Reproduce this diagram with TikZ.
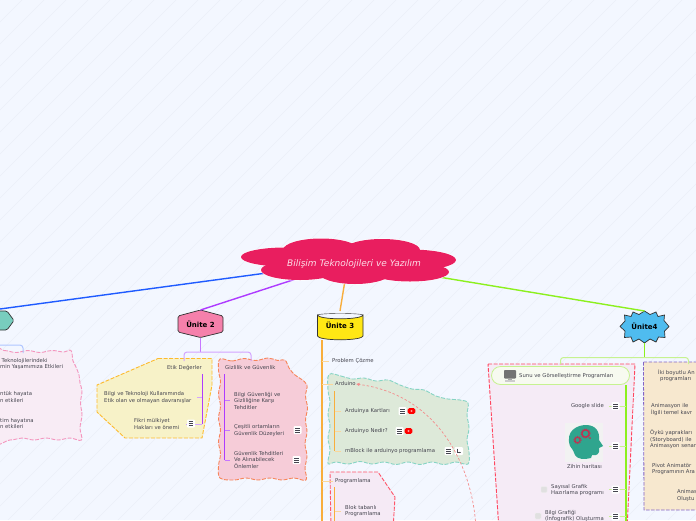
\documentclass[tikz,border=0pt]{standalone}
\usepackage{fontspec}
\setmainfont{DejaVu Sans}
\usetikzlibrary{arrows.meta,shapes.geometric}
\definecolor{bgc}{HTML}{F3F7FF}
\definecolor{stripe}{HTML}{EBEFF8}
\definecolor{txt}{HTML}{45454F}
\definecolor{cloudc}{HTML}{E91E5F}
\definecolor{blueL}{HTML}{1F5BFF}
\definecolor{blueP}{HTML}{AFC6FF}
\definecolor{purpL}{HTML}{AE3BFF}
\definecolor{purpP}{HTML}{D3A4FF}
\definecolor{orL}{HTML}{F8AE3C}
\definecolor{orP}{HTML}{FBD79A}
\definecolor{grL}{HTML}{8CF01E}
\definecolor{grP}{HTML}{C6F290}
\definecolor{fPinkA}{HTML}{F8ECF5}
\definecolor{sPinkA}{HTML}{F496BE}
\definecolor{fYel}{HTML}{F7F2C8}
\definecolor{sYel}{HTML}{FDBB2D}
\definecolor{fRose}{HTML}{F6CCD8}
\definecolor{sRose}{HTML}{F7855A}
\definecolor{fGrn}{HTML}{DDE9D9}
\definecolor{sGrn}{HTML}{86D4C4}
\definecolor{fProg}{HTML}{F5EAF5}
\definecolor{sProg}{HTML}{FF5569}
\definecolor{fSunu}{HTML}{F5EBF6}
\definecolor{sSunu}{HTML}{FF465F}
\definecolor{fBeige}{HTML}{F7E8CF}
\definecolor{sBeige}{HTML}{8264C8}
\definecolor{u2c}{HTML}{F580AB}
\definecolor{u3c}{HTML}{FFE714}
\definecolor{u4c}{HTML}{4FBCEF}
\definecolor{u1c}{HTML}{78CDBE}
\definecolor{sunuF}{HTML}{F7FAF0}
\definecolor{curveC}{HTML}{F48C8C}
\definecolor{headC}{HTML}{2FA58E}
\definecolor{gearC}{HTML}{C2304F}
\tikzset{
 x=1pt,y=-1pt,
 lbl/.style={font=\fontsize{5.3}{6.5}\selectfont,text=txt,inner sep=0,align=left,anchor=west},
 lblc/.style={lbl,align=center,anchor=center},
 unit/.style={font=\fontsize{7}{8}\selectfont\bfseries,text=black,inner sep=0},
 unitshape/.style={draw=black!80,line width=.7pt,rounded corners=1.5pt},
 dashb/.style={line width=.9pt,dash pattern=on 4pt off 1.5pt},
 link/.style={line width=1.4pt},
 sub/.style={line width=1pt},
}
\newcommand{\listicon}[2]{%
 \fill[white,rounded corners=1pt] (#1-4,#2-4) rectangle (#1+4,#2+4);
 \draw[txt,line width=.55pt] (#1-2.4,#2-1.8) -- (#1+2.4,#2-1.8) (#1-2.4,#2) -- (#1+2.4,#2) (#1-2.4,#2+1.8) -- (#1+2.4,#2+1.8);}
\newcommand{\yticon}[2]{%
 \fill[red,rounded corners=1.5pt] (#1-3.8,#2-2.8) rectangle (#1+3.8,#2+2.8);
 \fill[white!60!red] (#1,#2) circle (1.1);}
\newcommand{\checkicon}[2]{%
 \fill[black!12,rounded corners=.8pt,draw=black!6] (#1-3,#2-3) rectangle (#1+3,#2+3);}
\begin{document}
\begin{tikzpicture}
\useasboundingbox (0,0) rectangle (696,520);
\fill[bgc] (0,0) rectangle (696,520);
\begin{scope}
\clip (0,0) rectangle (696,520);
\foreach \k in {0,22,...,1240}{\draw[stripe,line width=.5pt] (\k,0) -- (\k-520,520);}

% region shapes
\draw[fill=fPinkA,draw=sPinkA,dashb] plot[smooth cycle,tension=.6] coordinates {(-10,352)(4,350.5)(16,352.5)(28,350.5)(40,352.5)(52,350.5)(64,352)(71,350.5)(73,361)(76,367)(79,375)(80,383)(82,391)(80.5,403)(82,415)(80,428)(81.5,440)(70,438)(58,440)(46,438)(34,440)(22,438)(10,440)(-10,438)};
\draw[fill=fYel,draw=sYel,dashb] (158,358.5) -- (212,358.5) -- (212,385) -- (202,438) -- (125,438) -- (97,412) -- (97,385) -- cycle;
\draw[fill=fRose,draw=sRose,dashb] plot[smooth cycle,tension=.6] coordinates {(220,359)(232,361)(244,358.5)(256,360.5)(268,358)(278,360.5)(285,360)(289,368)(295,375)(301,379)(307,385)(305.5,396)(307.5,408)(305.5,420)(307,432)(305,444)(307,456)(305,468)(306,480)(294,478)(282,480)(270,478)(258,480)(246,478)(234,480)(220,478)(218.5,466)(220.5,454)(218.5,442)(220.5,430)(218.5,418)(220.5,406)(218.5,394)(220.5,382)(218.5,370)};
\draw[fill=fGrn,draw=sGrn,dashb] plot[smooth cycle,tension=.6] coordinates {(329,374.5)(341,376)(352,379)(364,378)(376,381)(388,380)(400,385)(412,389)(424,390)(436,396)(448,399)(460,400)(468,403)(467,415)(469,428)(467,440)(469,452)(468,464)(456,462)(444,464.5)(432,462)(420,464.5)(408,462)(396,464.5)(384,462)(372,464)(360,461.5)(348,464)(336,462)(328,463.5)(330,450)(328,438)(330,426)(328,414)(330,402)(328,390)};
\draw[fill=fProg,draw=sProg,dashb] (330,472) -- (378,472) -- (395,497) -- (393,530) -- (331,530) -- cycle;
\draw[fill=fSunu,draw=sSunu,dashb] (488,364) -- (635,364) -- (627,530) -- (499,530) -- cycle;
\draw[fill=fBeige,draw=sBeige,line width=.8pt,dash pattern=on 3.5pt off 1.5pt] (643.5,362) -- (710,362) -- (710,510) -- (644,510) -- cycle;

% units
\draw[unitshape,fill=u2c] (178,316) -- (200.5,310) -- (223,316) -- (223,332) -- (200.5,337.5) -- (178,332) -- cycle;
\node[unit] (u2) at (200.5,324) {Ünite 2};
\draw[unitshape,fill=u3c,rounded corners=0] (317.5,315) arc[start angle=180,end angle=0,x radius=22.75,y radius=3.8] -- (363,336) arc[start angle=0,end angle=180,x radius=22.75,y radius=3.8] -- cycle;
\draw[black!80,line width=.4pt] (317.5,315) arc[start angle=180,end angle=360,x radius=22.75,y radius=1.5];
\node[unit] (u3) at (340,325.5) {Ünite 3};
\draw[unitshape,fill=u4c,rounded corners=0]
 (644.5,311) -- (650,314.5) -- (656,312) -- (658,316.5) -- (664.5,315) -- (664,320.5) -- (669,326.5) -- (664.5,331) -- (665,337.5) -- (658.5,337) -- (656,342) -- (650,339) -- (644.5,343) -- (639,339) -- (633,342) -- (631,337) -- (624.5,337.5) -- (625,331) -- (620,326.5) -- (625,321) -- (624.5,315) -- (631,316.5) -- (633,312) -- (639,314.5) -- cycle;
\node[unit] (u4) at (644.5,326.5) {Ünite4};
\draw[unitshape,fill=u1c] (-12,311) -- (7,311) -- (14,320.5) -- (7,330) -- (-12,330) -- cycle;
\coordinate (u1) at (0,309);
\coordinate (u2t) at (200.5,310);
\coordinate (u3t) at (340,311);
\coordinate (u4t) at (644.5,311);

% centre
\coordinate (ctr) at (348,262);
\draw[blueL,link] (ctr) -- (u1);
\draw[purpL,link] (ctr) -- (u2t);
\draw[orL,link] (ctr) -- (u3t);
\draw[grL,link] (ctr) -- (u4t);
\foreach \cx/\cy/\rx/\ry in {285/257/44/9.5,321/250/38/11.5,382/250/38/11,410/260/46/10.5,410/272/39/9.5,300/270/39/10,355/272/37/12,350/260/60/15}{
  \fill[white] (\cx,\cy) ellipse[x radius=\rx+.6,y radius=\ry+.6];}
\foreach \cx/\cy/\rx/\ry in {285/257/44/9.5,321/250/38/11.5,382/250/38/11,410/260/46/10.5,410/272/39/9.5,300/270/39/10,355/272/37/12,350/260/60/15}{
  \fill[cloudc] (\cx,\cy) ellipse[x radius=\rx,y radius=\ry];}
\node[font=\fontsize{9}{10}\selectfont\itshape,text=white!85!cloudc,inner sep=0] (centre) at (354,264) {Bilişim Teknolojileri ve Yazılım};

% unit 1 branch
\coordinate (b1) at (23,353);
\draw[blueP,sub,rounded corners=3pt] (-5,345) -- (23,345) -- (b1);

% unit 2
\coordinate (j2) at (200.5,352);
\node[lbl,anchor=east] (etik) at (202,368) {Etik Değerler};
\node[lbl] (giz) at (225,368) {Gizlilik ve Güvenlik};
\draw[purpL!70,link] (200.5,338) -- (j2);
\draw[purpP,sub,rounded corners=3pt] (184,361) -- (184,352) -- (251,352) -- (251,361);
\node[lbl] (n21) at (104,397.5) {Bilgi ve Teknoloji Kullanımında\\Etik olan ve olmayan davranışlar};
\node[lbl] (n22) at (134,424) {Fikri mülkiyet\\Hakları ve önemi};
\coordinate (v21) at (202,374);
\draw[purpL,sub] (v21) -- (202,424);
\draw[purpP,sub] (197,397) -- (202,397);
\draw[purpP,sub] (186,424) -- (202,424);
\listicon{191}{423.5}
\node[lbl] (n23) at (234,400.5) {Bilgi Güvenliği ve\\Gizliliğine Karşı\\Tehditler};
\node[lbl] (n24) at (234,430.5) {Çeşitli ortamların\\Güvenlik Düzeyleri};
\node[lbl] (n25) at (234,460) {Güvenlik Tehditleri\\Ve Alınabilecek\\Önlemler};
\coordinate (v22) at (224.5,374);
\draw[purpL,sub] (v22) -- (224.5,460);
\foreach \yy in {400,430.5,460}{\draw[purpL!70,sub] (224.5,\yy) -- (230,\yy);}
\listicon{297.5}{430}
\listicon{296.5}{460}

% left texts
\node[lbl] at (0,364) {\hspace*{1.5pt}Teknolojilerindeki\\min Yaşamımıza Etkileri};
\node[lbl] at (0,397) {ntük hayata\\n etkileri};
\node[lbl] at (0,423.5) {tim hayatına\\n etkileri};

% unit 3
\draw[orL,line width=1.4pt] (322,340) -- (322,530);
\node[lbl] (p1) at (332,361) {Problem Çözme};
\node[lbl] (p2) at (335,384) {Arduino};
\node[lbl] (p3) at (335,481) {Programlama};
\draw[orP,sub,shorten >=3pt] (322,361) -- (p1.west);
\draw[orP,sub,shorten >=2pt] (322,384) -- (p2.west);
\draw[orP,sub,shorten >=2pt] (322,481) -- (p3.west);
\draw[orL,sub] (334.5,391) -- (334.5,451);
\node[lbl] (a1) at (345,411) {Arduinya Kartları};
\node[lbl] (a2) at (345,431) {Arduinyo Nedir?};
\node[lbl] (a3) at (345,451) {mBlock ile arduinyo programlama};
\foreach \n/\yy in {a1/411,a2/431,a3/451}{\draw[orP,sub,shorten >=4pt] (334.5,\yy) -- (\n.west);}
\listicon{402.5}{411}\yticon{411.5}{411}
\listicon{399.5}{431}\yticon{408.5}{431}
\listicon{448.5}{451}
\fill[white,rounded corners=1pt] (454.5,447) rectangle (463,455);
\draw[txt,line width=.6pt,-{Latex[length=1.5pt,width=1.5pt]}] (457,448.5) -- (457,452.5) -- (461,452.5);
\draw[orL,sub] (334.5,487) -- (334.5,530);
\node[lbl] (b1n) at (345,511) {Blok tabanlı\\Programlama};
\draw[orP,sub,shorten >=4pt] (334.5,511) -- (b1n.west);
\coordinate (curveEnd) at (476,530);
\draw[curveC,line width=.7pt,dash pattern=on 2.5pt off 2pt,-{Latex[length=3.5pt,width=3.5pt]}] (curveEnd) .. controls (474,470) and (440,395) .. (p2.east);

% unit 4
\coordinate (j4) at (644.5,357);
\draw[grL,link] (644.5,343) -- (j4);
\draw[grP,sub,rounded corners=3pt] (560.5,364) -- (560.5,357.5) -- (688.5,357.5) -- (688.5,364);
\draw[fill=sunuF,draw=grP,line width=.8pt,rounded corners=9pt] (491.5,366.5) rectangle (629.5,384.5);
\node[lbl] (sunu) at (519,376) {Sunu ve Görselleştirme Programları};
\fill[black!55,rounded corners=.8pt] (504,370) rectangle (516,378.5);
\fill[black!35] (508,378.5) rectangle (512,380);
\fill[black!20] (505,380) rectangle (515,382);
\draw[grL,link] (626,385) -- (626,530);
\node[lbl,anchor=east] (s1) at (604,406) {Google slide};
\node[lblc] (s2) at (584.5,467) {Zihin haritası};
\node[lbl,anchor=east,align=left] (s3) at (604,490) {Sayısal Grafik\\Hazırlama programı};
\node[lbl,anchor=east,align=left] (s4) at (604,516) {Bilgi Grafiği\\(İnfografik) Oluşturma};
\foreach \yy in {406,446,489.5,516.5}{\draw[grP,sub] (609,\yy) -- (626,\yy); \listicon{615.5}{\yy}}
\checkicon{544}{489.5}
\checkicon{538}{516}
% mind-map head
\fill[black!5] (565,423) rectangle (603,462);
\fill[headC] (570,446) .. controls (565,431) and (577,425) .. (586,425) .. controls (596,425) and (600,432) .. (599,440) -- (603,446) -- (599,448) .. controls (600,454) and (597,456) .. (592,455) -- (591,458) .. controls (584,460) and (577,459) .. (575,455) .. controls (574,452) and (573,450) .. (570,446) -- cycle;
\foreach \gx/\gy/\gr/\gt in {585.5/433.5/3.6/1.2,577.5/440/2.6/1}{
  \draw[gearC,line width=\gt pt] (\gx,\gy) circle (\gr);
  \draw[gearC,line width=1pt,dash pattern=on .9pt off .9pt] (\gx,\gy) circle (\gr+1);}
\fill[gearC] (590,438) circle (1);

\node[lbl] at (658,375.5) {İki boyutlu An\\\hspace*{2pt}programları};
\node[lbl] at (651,409.5) {Animasyon ile\\İlgili temel kavr};
\node[lbl] at (650,439.5) {Öykü yaprakları\\(Storyboard) ile\\Animasyon senar};
\node[lbl] at (652,469) {Pivot Animatör\\Programının Ara};
\node[lbl] at (677,495.5) {Animas\\Oluştu};
\end{scope}
\end{tikzpicture}
\end{document}
